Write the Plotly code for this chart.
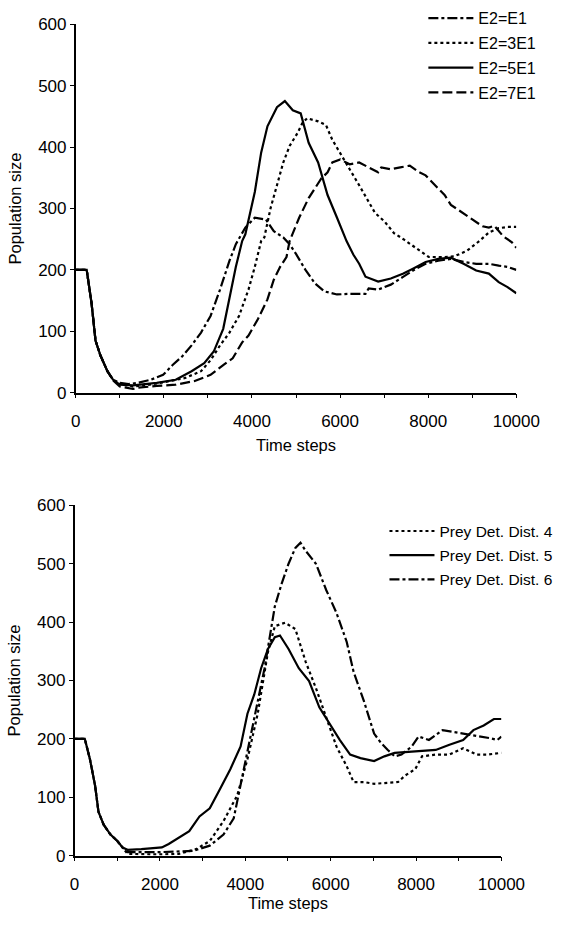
import plotly.graph_objects as go

# ---------------- Top panel data (Time steps vs Population size) ----------------
top_t_e1 = [0, 250, 360, 450, 560, 720, 850, 1000, 1200, 1410, 1700, 1984, 2200, 2415, 2630, 2845, 3061, 3276,
            3491, 3635, 3850, 4065, 4317, 4496, 4711, 4855, 5000, 5215, 5430, 5645, 5930, 6218, 6577, 6649,
            6864, 7151, 7438, 7654, 7941, 8228, 8515, 8802, 9089, 9376, 9600, 9800, 10000]
top_v_e1 = [200, 200, 146, 85, 61, 35, 21, 16, 14, 16, 21, 29, 45, 59, 77, 98, 125, 168,
            215, 242, 269, 285, 282, 263, 253, 242, 226, 200, 178, 165, 160, 161, 161, 170,
            168, 176, 189, 199, 210, 215, 218, 213, 210, 210, 207, 205, 200]

top_t_e3 = [0, 250, 360, 450, 560, 720, 850, 1000, 1300, 1600, 2000, 2486, 2845, 3061, 3276, 3491, 3707,
            3922, 4065, 4209, 4281, 4424, 4568, 4711, 4855, 5035, 5143, 5250, 5502, 5680, 5824, 6003,
            6218, 6433, 6649, 6792, 7007, 7223, 7438, 7654, 7869, 8013, 8372, 8587, 8874, 9161, 9376,
            9600, 9800, 10000]
top_v_e3 = [200, 200, 146, 85, 61, 35, 21, 14, 10, 12, 17, 24, 35, 53, 77, 98, 125,
            168, 205, 247, 253, 301, 338, 375, 402, 423, 439, 447, 442, 436, 412, 391,
            364, 338, 311, 293, 279, 260, 250, 239, 229, 221, 221, 222, 231, 247, 261,
            268, 270, 270]

top_t_e5 = [0, 250, 360, 450, 560, 720, 850, 1000, 1300, 1600, 1840, 2271, 2630, 2917, 3133, 3348, 3491,
            3635, 3778, 3850, 4065, 4209, 4352, 4568, 4747, 4927, 5107, 5287, 5502, 5716, 5931, 6147,
            6300, 6433, 6577, 6864, 7151, 7438, 7654, 7941, 8228, 8515, 8802, 9089, 9376, 9600, 9800,
            10000]
top_v_e5 = [200, 200, 146, 85, 61, 35, 21, 13, 12, 14, 16, 21, 35, 48, 67, 104, 152,
            205, 247, 258, 327, 391, 434, 465, 475, 460, 455, 407, 375, 322, 285, 247,
            225, 210, 189, 181, 186, 194, 202, 213, 218, 220, 210, 199, 194, 180, 172,
            162]

top_t_e7 = [0, 250, 360, 450, 560, 720, 850, 1000, 1300, 1410, 1840, 2271, 2702, 3061, 3348, 3563, 3778,
            3922, 4137, 4352, 4496, 4640, 4784, 4855, 5071, 5287, 5574, 5717, 5824, 6003, 6218, 6433,
            6649, 6864, 6936, 7151, 7366, 7582, 7797, 7941, 8156, 8372, 8515, 8731, 8946, 9233, 9376,
            9500, 9700, 9900, 10000]
top_v_e7 = [200, 200, 146, 85, 61, 35, 20, 10, 6, 8, 11, 13, 19, 29, 45, 56, 82,
            93, 120, 152, 184, 205, 221, 247, 285, 317, 349, 359, 375, 380, 372, 375,
            367, 359, 367, 364, 367, 370, 359, 354, 338, 322, 306, 295, 285, 271, 269,
            272, 255, 245, 236]

# ---------------- Bottom panel data ----------------
bot_t_d4 = [0, 240, 361, 481, 561, 682, 842, 1003, 1123, 1243, 1965, 2446, 2847, 3168, 3489, 3810, 4050,
            4291, 4531, 4692, 4932, 5173, 5414, 5654, 5895, 6135, 6376, 6536, 6777, 7017, 7579, 7739,
            7980, 8140, 8461, 8782, 9103, 9423, 9664, 10000]
bot_v_d4 = [200, 200, 165, 120, 75, 53, 36, 25, 14, 3, 2, 3, 11, 25, 59, 103, 165,
            243, 349, 393, 399, 388, 332, 287, 237, 187, 153, 126, 126, 123, 126, 137,
            148, 170, 173, 173, 184, 173, 173, 176]

bot_t_d5 = [0, 240, 361, 481, 561, 682, 842, 1003, 1123, 1243, 1564, 2045, 2206, 2446, 2687, 2927, 3168,
            3408, 3649, 3890, 4050, 4210, 4371, 4531, 4692, 4812, 5013, 5253, 5494, 5734, 5975, 6216,
            6456, 6697, 7017, 7258, 7499, 7980, 8461, 8782, 9103, 9343, 9584, 9824, 10000]
bot_v_d5 = [200, 200, 165, 120, 75, 53, 36, 25, 14, 10, 11, 14, 20, 31, 42, 67, 81,
            114, 148, 187, 243, 276, 321, 354, 374, 377, 354, 321, 299, 254, 226, 198,
            173, 167, 162, 170, 176, 179, 181, 190, 198, 215, 223, 234, 234]

bot_t_d6 = [0, 240, 361, 481, 561, 682, 842, 1003, 1123, 1243, 2000, 2767, 3168, 3489, 3729, 3970, 4210,
            4451, 4692, 4852, 5013, 5173, 5293, 5414, 5654, 5895, 6135, 6376, 6536, 6777, 7017, 7178,
            7338, 7499, 7659, 7900, 8060, 8301, 8622, 8862, 9183, 9423, 9744, 9904, 10000]
bot_v_d6 = [200, 200, 165, 120, 75, 53, 36, 25, 14, 6, 6, 8, 17, 36, 64, 148, 232,
            321, 427, 466, 500, 527, 536, 522, 500, 455, 416, 366, 315, 265, 209, 193,
            181, 170, 173, 187, 204, 198, 215, 212, 209, 206, 201, 198, 204]

top_names = ["E2=E1", "E2=3E1", "E2=5E1", "E2=7E1"]
bot_names = ["Prey Det. Dist. 4", "Prey Det. Dist. 5", "Prey Det. Dist. 6"]

x_ticks = [0, 2000, 4000, 6000, 8000, 10000]
y_ticks = [0, 100, 200, 300, 400, 500, 600]

FONT = "Liberation Sans, Arial, sans-serif"
DOT = "3px,3px"
DASH = "10px,4px"
DASHDOT = "10px,3px,3px,3px"
LW = 2.2

fig = go.Figure()

top_series = [(top_t_e1, top_v_e1, DASHDOT), (top_t_e3, top_v_e3, DOT),
              (top_t_e5, top_v_e5, "solid"), (top_t_e7, top_v_e7, DASH)]
for i, (name, (t, v, dash)) in enumerate(zip(top_names, top_series)):
    fig.add_trace(go.Scatter(x=t, y=v, mode="lines", name=name, xaxis="x", yaxis="y",
                             legendgroup="t%d" % i, hoverinfo="skip",
                             line=dict(color="black", width=LW, dash=dash), legend="legend"))

bot_series = [(bot_t_d4, bot_v_d4, DOT), (bot_t_d5, bot_v_d5, "solid"), (bot_t_d6, bot_v_d6, DASHDOT)]
for i, (name, (t, v, dash)) in enumerate(zip(bot_names, bot_series)):
    fig.add_trace(go.Scatter(x=t, y=v, mode="lines", name=name, xaxis="x2", yaxis="y2",
                             legendgroup="b%d" % i, hoverinfo="skip",
                             line=dict(color="black", width=LW, dash=dash), legend="legend2"))

W, H = 565, 928


def xd(a, b):
    return [a / W, b / W]


def yd(top_px, bot_px):
    return [1 - bot_px / H, 1 - top_px / H]


axis_common = dict(showline=True, linecolor="black", linewidth=1.5, ticks="outside", ticklen=4,
                   tickwidth=1, tickcolor="black", showgrid=False, zeroline=False,
                   tickfont=dict(family=FONT, size=17, color="black"))


def xaxis_cfg(title_standoff):
    return dict(axis_common, range=[0, 10000], tickvals=x_ticks,
                ticktext=[str(v) for v in x_ticks], ticklabelstandoff=8,
                minor=dict(dtick=1000, ticks="outside", ticklen=4, tickcolor="black", showgrid=False),
                title=dict(text="Time steps", font=dict(family=FONT, size=16.5, color="black"),
                           standoff=title_standoff))


yaxis_common = dict(axis_common, range=[0, 600], tickvals=y_ticks,
                    ticktext=[str(v) for v in y_ticks],
                    title=dict(text="Population size", font=dict(family=FONT, size=16.5, color="black"),
                               standoff=12))

fig.update_layout(
    width=W, height=H,
    margin=dict(l=0, r=0, t=0, b=0),
    paper_bgcolor="white", plot_bgcolor="white",
    font=dict(family=FONT, size=16, color="black"),
    xaxis=dict(xaxis_cfg(10), domain=xd(74.5, 539), anchor="y"),
    yaxis=dict(yaxis_common, domain=yd(15.7, 391.7), anchor="x"),
    xaxis2=dict(xaxis_cfg(0), domain=xd(73.3, 523.3), anchor="y2"),
    yaxis2=dict(yaxis_common, domain=yd(506.7, 864.3), anchor="x2"),
    legend=dict(x=441 / W, y=1 + 8 / H, xanchor="left", yanchor="top", bgcolor="rgba(0,0,0,0)",
                font=dict(family=FONT, size=16, color="black"), itemwidth=45, tracegroupgap=1,
                traceorder="grouped"),
    legend2=dict(x=400 / W, y=1 - 516 / H, xanchor="left", yanchor="top", bgcolor="rgba(0,0,0,0)",
                 font=dict(family=FONT, size=15.5, color="black"), itemwidth=45, tracegroupgap=1,
                 traceorder="grouped"),
    showlegend=True,
)

fig.write_html("out.html", config={"displayModeBar": False},
               post_script="document.body.style.margin='0';document.body.style.overflow='hidden';")
